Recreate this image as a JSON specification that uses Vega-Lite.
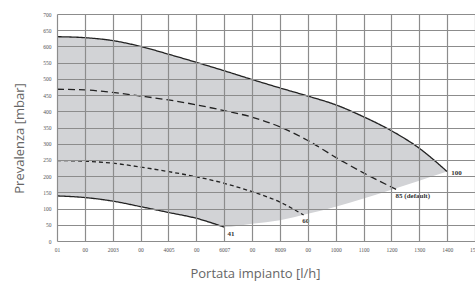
{
  "$schema": "https://vega.github.io/schema/vega-lite/v6.json",
  "autosize": "none",
  "width": 418,
  "height": 227,
  "padding": {"left": 57, "top": 14, "right": 0, "bottom": 41},
  "background": "white",
  "config": {"view": {"stroke": null}},
  "datasets": {
    "band": [
      {"flow": 0, "p": 630, "p2": 139},
      {"flow": 100, "p": 627, "p2": 134},
      {"flow": 200, "p": 618, "p2": 123},
      {"flow": 300, "p": 600, "p2": 106},
      {"flow": 400, "p": 576, "p2": 88},
      {"flow": 500, "p": 551, "p2": 70},
      {"flow": 600, "p": 525, "p2": 43},
      {"flow": 700, "p": 498, "p2": 53},
      {"flow": 800, "p": 472, "p2": 64},
      {"flow": 900, "p": 447, "p2": 84},
      {"flow": 1000, "p": 422, "p2": 106},
      {"flow": 1100, "p": 386, "p2": 131},
      {"flow": 1200, "p": 342, "p2": 158},
      {"flow": 1300, "p": 288, "p2": 186},
      {"flow": 1400, "p": 214, "p2": 214}
    ],
    "curves": [
      {"flow": 0, "p": 630, "curve": "100"},
      {"flow": 100, "p": 627, "curve": "100"},
      {"flow": 200, "p": 618, "curve": "100"},
      {"flow": 300, "p": 600, "curve": "100"},
      {"flow": 400, "p": 576, "curve": "100"},
      {"flow": 500, "p": 551, "curve": "100"},
      {"flow": 600, "p": 525, "curve": "100"},
      {"flow": 700, "p": 498, "curve": "100"},
      {"flow": 800, "p": 472, "curve": "100"},
      {"flow": 900, "p": 447, "curve": "100"},
      {"flow": 1000, "p": 420, "curve": "100"},
      {"flow": 1100, "p": 383, "curve": "100"},
      {"flow": 1200, "p": 340, "curve": "100"},
      {"flow": 1300, "p": 286, "curve": "100"},
      {"flow": 1400, "p": 214, "curve": "100"},
      {"flow": 0, "p": 468, "curve": "85"},
      {"flow": 100, "p": 466, "curve": "85"},
      {"flow": 200, "p": 458, "curve": "85"},
      {"flow": 300, "p": 447, "curve": "85"},
      {"flow": 400, "p": 435, "curve": "85"},
      {"flow": 500, "p": 420, "curve": "85"},
      {"flow": 600, "p": 402, "curve": "85"},
      {"flow": 700, "p": 382, "curve": "85"},
      {"flow": 800, "p": 352, "curve": "85"},
      {"flow": 900, "p": 310, "curve": "85"},
      {"flow": 1000, "p": 258, "curve": "85"},
      {"flow": 1100, "p": 210, "curve": "85"},
      {"flow": 1220, "p": 158, "curve": "85"},
      {"flow": 0, "p": 248, "curve": "60"},
      {"flow": 100, "p": 246, "curve": "60"},
      {"flow": 200, "p": 240, "curve": "60"},
      {"flow": 300, "p": 228, "curve": "60"},
      {"flow": 400, "p": 214, "curve": "60"},
      {"flow": 500, "p": 198, "curve": "60"},
      {"flow": 600, "p": 178, "curve": "60"},
      {"flow": 700, "p": 152, "curve": "60"},
      {"flow": 800, "p": 120, "curve": "60"},
      {"flow": 885, "p": 80, "curve": "60"},
      {"flow": 0, "p": 139, "curve": "41"},
      {"flow": 100, "p": 134, "curve": "41"},
      {"flow": 200, "p": 123, "curve": "41"},
      {"flow": 300, "p": 106, "curve": "41"},
      {"flow": 400, "p": 88, "curve": "41"},
      {"flow": 500, "p": 70, "curve": "41"},
      {"flow": 600, "p": 43, "curve": "41"}
    ],
    "labels": [
      {"flow": 612, "p": 22, "text": "41"},
      {"flow": 880, "p": 62, "text": "60"},
      {"flow": 1215, "p": 139, "text": "85 (default)"},
      {"flow": 1415, "p": 211, "text": "100"}
    ]
  },
  "encoding": {
    "x": {
      "field": "flow", "type": "quantitative",
      "scale": {"domain": [0, 1500], "nice": false},
      "axis": {
        "tickCount": 15,
        "labelExpr": "['01','00','2003','00','4005','00','6007','00','8009','00','1000','1100','1200','1300','1400','1500'][round(datum.value/100)]",
        "labelOverlap": false, "labelBound": false, "labelFlush": false,
        "grid": true, "gridColor": "#8c8c8c", "gridWidth": 1.2, "gridOpacity": 1,
        "domain": false, "ticks": false,
        "labelFont": "Liberation Sans Narrow", "labelFontSize": 5.5, "labelColor": "#555", "labelPadding": 6,
        "zindex": 1,
        "title": "Portata impianto [l/h]",
        "titleFont": "Open Sans", "titleFontSize": 13, "titleFontWeight": "normal", "titleColor": "#666",
        "titleAnchor": "middle", "titleX": 198, "titleY": 26, "titleBaseline": "top"
      }
    },
    "y": {
      "field": "p", "type": "quantitative",
      "scale": {"domain": [0, 700], "nice": false},
      "axis": {
        "tickCount": 14,
        "labelOverlap": false, "labelBound": false, "labelFlush": false,
        "grid": true, "gridColor": "#8c8c8c", "gridWidth": 1.2, "gridOpacity": 1,
        "domain": false, "ticks": false,
        "labelFont": "Liberation Sans Narrow", "labelFontSize": 5.5, "labelColor": "#555", "labelPadding": 6,
        "zindex": 1,
        "title": "Prevalenza [mbar]",
        "titleFont": "Open Sans", "titleFontSize": 13, "titleFontWeight": "normal", "titleColor": "#666",
        "titleX": -38, "titleY": 124, "titleAngle": -90, "titleBaseline": "middle", "titleAnchor": "middle"
      }
    }
  },
  "layer": [
    {
      "data": {"name": "band"},
      "mark": {"type": "area", "color": "#d2d3d6", "interpolate": "monotone"},
      "encoding": {"y2": {"field": "p2"}}
    },
    {
      "data": {"name": "curves"},
      "mark": {"type": "line", "color": "#222", "interpolate": "monotone", "strokeWidth": 1.3},
      "encoding": {
        "detail": {"field": "curve"},
        "strokeDash": {
          "field": "curve", "type": "nominal",
          "scale": {"domain": ["100", "85", "60", "41"], "range": [[1, 0], [7, 4], [4, 3], [1, 0]]},
          "legend": null
        }
      }
    },
    {
      "data": {"name": "labels"},
      "mark": {"type": "text", "align": "left", "baseline": "middle", "font": "Liberation Sans Narrow", "fontSize": 7, "fontWeight": "bold", "color": "#333"},
      "encoding": {"text": {"field": "text"}}
    }
  ]
}
